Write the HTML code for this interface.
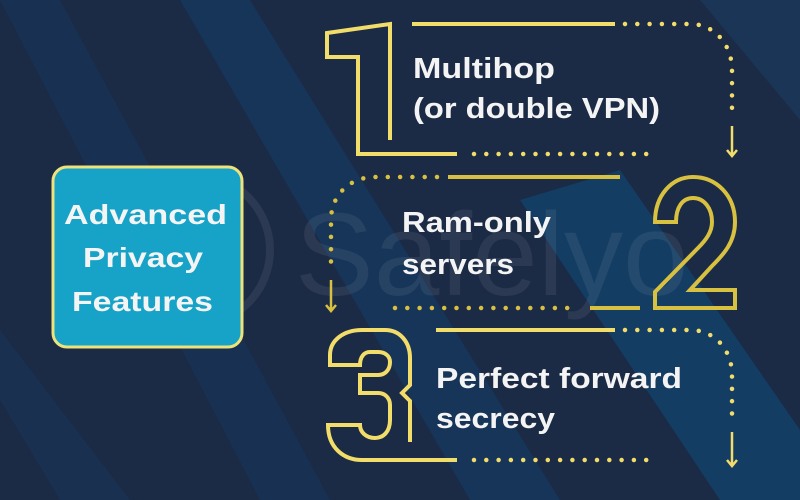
<!DOCTYPE html>
<html><head><meta charset="utf-8"><style>
html,body{margin:0;padding:0;width:800px;height:500px;overflow:hidden;background:#1b2a45}
svg{display:block}
text{font-family:"Liberation Sans",sans-serif;font-weight:bold}
</style></head><body>
<svg width="800" height="500" viewBox="0 0 800 500" xmlns="http://www.w3.org/2000/svg">
<rect width="800" height="500" fill="#1b2a45"/>
<polygon points="0,0 60,0 330,500 260,500" fill="#173a62" opacity="0.45"/>
<polygon points="180,0 250,0 560,500 470,500" fill="#0f4a7e" opacity="0.35"/>
<polygon points="700,0 800,0 800,120" fill="#1e4a78" opacity="0.35"/>
<polygon points="520,200 620,170 800,430 800,500 720,500" fill="#0b5a94" opacity="0.4"/>
<polygon points="0,330 0,400 60,500 130,500" fill="#173a62" opacity="0.4"/>
<circle cx="195" cy="250" r="75" fill="none" stroke="#ffffff" stroke-opacity="0.07" stroke-width="8"/>
<text x="295" y="295" font-size="118" fill="#ffffff" fill-opacity="0.07" style="font-weight:normal">Safelyo</text>
<rect x="53" y="167" width="189" height="180" rx="14" fill="#17a3c7" stroke="#eee27c" stroke-width="3"/>
<g fill="#f4f4f4" font-size="28">
<text x="64" y="224" textLength="163" lengthAdjust="spacingAndGlyphs">Advanced</text>
<text x="83" y="267" textLength="120" lengthAdjust="spacingAndGlyphs">Privacy</text>
<text x="72" y="311" textLength="141" lengthAdjust="spacingAndGlyphs">Features</text>
</g>
<g fill="none" stroke="#f2dc6a" stroke-width="4">
<path d="M412,24 L615,24"/>
<path d="M390,140 L390,24 L327,33 L327,57 L358,57 L358,154 L457,154"/>
<path d="M448,177 L620,177" stroke="#d8c040"/>
<path d="M590,308 L640,308" stroke="#d8c040"/>
<path stroke="#d8c040" d="M655,222 C655,195 672,177 693,177 C716,177 735,195 735,222 C735,242 724,254 712,266 L690,290 L735,290 L735,308 L655,308 L655,292 L698,248 C706,240 712,232 712,222 C712,208 704,198 693,198 C682,198 676,208 676,222 Z"/>
<path d="M436,330 L615,330"/>
<path d="M410,442 L410,401 L402,393 L410,385 L410,358 C410,342 400,330 385,330 L362,330 C344,330 330,340 330,355 L330,365 L360,365 C360,357 364,352 370,352 L378,352 C385,352 390,356 390,362 C390,370 385,375 378,375 L360,375 L360,393 L378,393 C385,393 390,398 390,405 L390,420 C390,432 383,438 375,438 C366,438 360,432 360,425 L328,425 C328,448 344,460 362,460 L457,460"/>
</g>
<g fill="none" stroke="#f2dc6a" stroke-width="4.5" stroke-linecap="round" stroke-dasharray="0 12.3">
<path d="M625,24 L690,24 C715,24 732,45 732,70 L732,115"/>
<path d="M474,154 L650,154"/>
<path d="M437,177 L375,177 C350,177 331,195 331,220 L331,262" stroke="#d8c040"/>
<path d="M395,308 L570,308" stroke="#d8c040"/>
<path d="M625,330 L690,330 C715,330 732,350 732,375 L732,420"/>
<path d="M474,460 L650,460"/>
</g>
<g fill="none" stroke-width="2.5">
<path d="M732,126 L732,155 M727,150 L732,156 L737,150" stroke="#f2dc6a"/>
<path d="M331,280 L331,310 M326,305 L331,311 L336,305" stroke="#d8c040"/>
<path d="M732,432 L732,465 M727,460 L732,466 L737,460" stroke="#f2dc6a"/>
</g>
<g fill="#f4f4f4" font-size="29">
<text x="413" y="78" textLength="142" lengthAdjust="spacingAndGlyphs">Multihop</text>
<text x="413" y="118" textLength="247" lengthAdjust="spacingAndGlyphs">(or double VPN)</text>
<text x="402" y="232" textLength="149" lengthAdjust="spacingAndGlyphs">Ram-only</text>
<text x="402" y="274" textLength="112" lengthAdjust="spacingAndGlyphs">servers</text>
<text x="436" y="388" textLength="246" lengthAdjust="spacingAndGlyphs">Perfect forward</text>
<text x="436" y="428" textLength="119" lengthAdjust="spacingAndGlyphs">secrecy</text>
</g>
</svg>
</body></html>
